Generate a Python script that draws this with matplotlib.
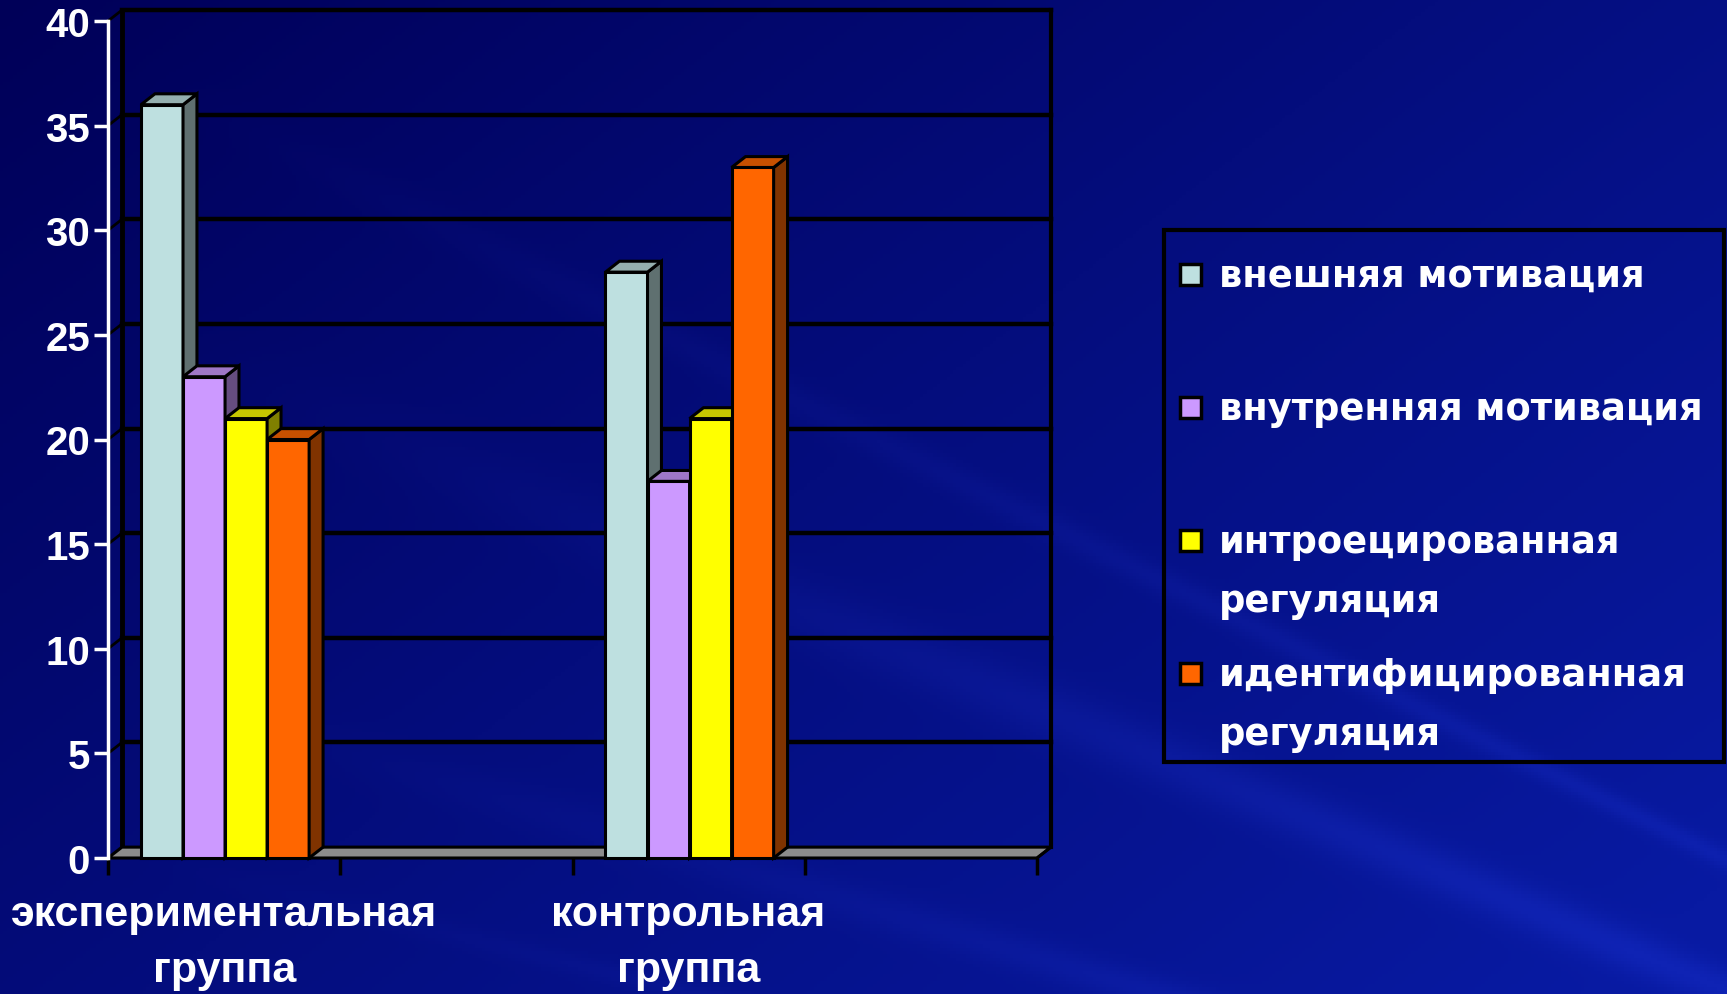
import textwrap
import numpy as np
import matplotlib
matplotlib.use("Agg")
import matplotlib.pyplot as plt
from matplotlib.patches import Rectangle, Polygon
from matplotlib import font_manager, colors as mcolors

# data
categories = ["экспериментальная группа", "", "контрольная группа", ""]
series_names = ["внешняя мотивация", "внутренняя мотивация",
                "интроецированная регуляция", "идентифицированная регуляция"]
vneshnyaya = [36, np.nan, 28, np.nan]
vnutrennyaya = [23, np.nan, 18, np.nan]
introec = [21, np.nan, 21, np.nan]
identif = [20, np.nan, 33, np.nan]
series_values = [vneshnyaya, vnutrennyaya, introec, identif]
series_colors = ["#BEE0E0", "#CC99FF", "#FFFF00", "#FF6600"]
y_ticks = [0, 5, 10, 15, 20, 25, 30, 35, 40]

W, H = 1727, 995
DX, DY = 0.06, 0.52          # depth of the 3d box in data units
BAR_OFF, BAR_W = 0.142, 0.181

names = {f.name for f in font_manager.fontManager.ttflist}
if "Liberation Sans Narrow" in names:
    xfont, xsize = "Liberation Sans Narrow", 37
else:
    xfont, xsize = "Liberation Sans", 31


def shade(c, k):
    r, g, b = mcolors.to_rgb(c)
    return (r * k, g * k, b * k)


fig = plt.figure(figsize=(W / 100, H / 100), dpi=100)

# background gradient with light rays
bg = fig.add_axes([0, 0, 1, 1])
yy, xx = np.mgrid[0:1:300j, 0:1:520j]
t = np.clip(0.6 * xx + 0.45 * yy, 0, 1)
dark = np.array([0x00, 0x00, 0x58]) / 255
bright = np.array([0x08, 0x1a, 0xa2]) / 255
img = dark + t[..., None] * (bright - dark)
ang = np.arctan2(yy * 0.58 - 0.95, xx - 1.9)
rays = [(-2.75, 0.012, 0.08), (-2.85, 0.008, 0.07), (-2.95, 0.010, 0.08),
        (-3.02, 0.006, 0.09), (-3.07, 0.008, 0.06), (-2.68, 0.006, 0.06),
        (-2.90, 0.004, 0.07), (-3.10, 0.005, 0.05)]
glow = np.zeros_like(xx)
for a, w, amp in rays:
    d = np.angle(np.exp(1j * (ang - a)))
    glow += amp * np.exp(-(d / w) ** 2)
glow *= np.clip(xx * 1.3 - 0.1, 0, 1)
img = np.clip(img + glow[..., None] * np.array([0.35, 0.45, 0.9]), 0, 1)
bg.imshow(img, extent=[0, 1, 0, 1], aspect="auto", origin="upper", zorder=-10)
bg.set_axis_off()

# main axes: front plane of the 3d chart
x0p, x1p, y0p, y1p = 108, 1037, 859, 22
ax = fig.add_axes([x0p / W, (H - y0p) / H, (x1p - x0p) / W, (y0p - y1p) / H])
ax.set_xlim(0, len(categories))
ax.set_ylim(0, 40)
ax.patch.set_alpha(0)

n = len(categories)
# floor
ax.add_patch(Polygon([(0, 0), (n, 0), (n + DX, DY), (DX, DY)], closed=True,
                     facecolor="#8C8C8C", edgecolor="black", lw=2.2,
                     clip_on=False, zorder=2))
# walls: back gridlines, side connectors, edges
for v in y_ticks[1:]:
    ax.plot([DX, n + DX], [v + DY, v + DY], color="black", lw=3.2, clip_on=False, zorder=1)
    ax.plot([0, DX], [v, v + DY], color="black", lw=2, clip_on=False, zorder=1)
ax.plot([DX, DX], [DY, 40 + DY], color="black", lw=3.5, clip_on=False, zorder=1)
ax.plot([n + DX, n + DX], [DY, 40 + DY], color="black", lw=3, clip_on=False, zorder=1)
ax.plot([n, n + DX], [0, DY], color="black", lw=2, clip_on=False, zorder=2)

# bars
z = 3
for ci in range(n):
    for j, vals in enumerate(series_values):
        h = vals[ci]
        if np.isnan(h):
            continue
        c = series_colors[j]
        xb = ci + BAR_OFF + j * BAR_W
        ax.add_patch(Rectangle((xb, 0), BAR_W, h, facecolor=c, edgecolor="black",
                               lw=2.2, zorder=z, clip_on=False))
        ax.add_patch(Polygon([(xb + BAR_W, 0), (xb + BAR_W + DX, DY),
                              (xb + BAR_W + DX, h + DY), (xb + BAR_W, h)],
                             facecolor=shade(c, 0.5), edgecolor="black", lw=2.2,
                             zorder=z, clip_on=False))
        ax.add_patch(Polygon([(xb, h), (xb + BAR_W, h), (xb + BAR_W + DX, h + DY),
                              (xb + DX, h + DY)],
                             facecolor=shade(c, 0.78), edgecolor="black", lw=2.2,
                             zorder=z, clip_on=False))
        z += 1

for s in ["top", "right", "bottom"]:
    ax.spines[s].set_visible(False)
ax.spines["left"].set_color("white")
ax.spines["left"].set_linewidth(2.5)
ax.spines["left"].set_zorder(20)

ax.set_yticks(y_ticks)
ax.set_yticklabels([str(v) for v in y_ticks], color="white",
                   fontfamily="Liberation Sans", fontweight="bold", fontsize=29)
ax.tick_params(axis="y", colors="white", length=10, width=2.5, pad=3)

ax.set_xticks(np.arange(n) + 0.5)
ax.set_xticklabels([c.replace(" ", "\n") for c in categories], color="white",
                   fontfamily=xfont, fontweight="bold", fontsize=xsize,
                   linespacing=1.5)
ax.set_xticks(np.arange(n + 1), minor=True)
ax.tick_params(axis="x", which="major", length=0, pad=26)
ax.tick_params(axis="x", which="minor", length=12, width=2.5, color="black")

# legend drawn in pixel coordinates
lg = fig.add_axes([0, 0, 1, 1])
lg.set_xlim(0, W)
lg.set_ylim(H, 0)
lg.set_axis_off()
lg.patch.set_alpha(0)
lg.add_patch(Rectangle((1164, 231), 560, 532, fill=False, edgecolor="black", lw=3))
for i, (name, c) in enumerate(zip(series_names, series_colors)):
    yc = 275 + 133 * i
    lg.add_patch(Rectangle((1180, yc - 10), 21, 21, facecolor=c, edgecolor="black", lw=2.5))
    lg.text(1219, yc - 17, textwrap.fill(name, 20), color="white", va="top", ha="left",
            fontfamily="DejaVu Sans", fontweight="bold", fontsize=26.5, linespacing=1.75)

fig.savefig("out.png", dpi=100)
